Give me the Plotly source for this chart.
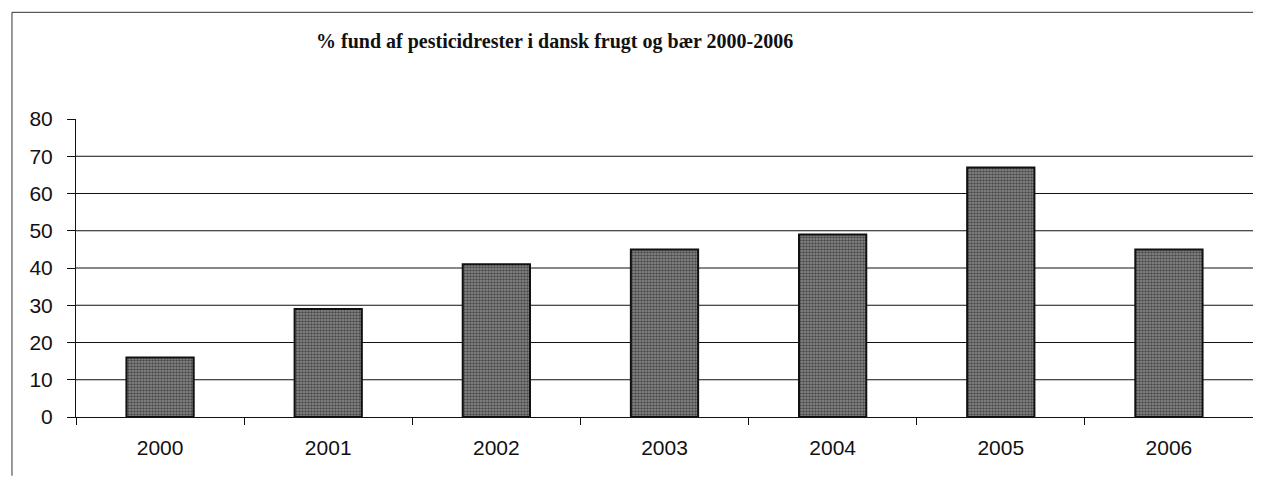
import plotly.graph_objects as go

years = ["2000", "2001", "2002", "2003", "2004", "2005", "2006"]
values = [16, 29, 41, 45, 49, 67, 45]
y_ticks = [0, 10, 20, 30, 40, 50, 60, 70, 80]
grid_vals = [10, 20, 30, 40, 50, 60, 70]
title = "% fund af pesticidrester i dansk frugt og bær 2000-2006"

fig = go.Figure()
fig.add_trace(go.Bar(
    x=years, y=values, width=0.4,
    marker=dict(
        color="#707070",
        line=dict(color="#111111", width=2),
        pattern=dict(shape=".", fgcolor="#0c0c0c", bgcolor="#8e8e8e", size=3, solidity=0.55),
    ),
    showlegend=False,
))

shapes = []
for g in grid_vals:
    shapes.append(dict(type="line", xref="paper", yref="y", x0=0, x1=1, y0=g, y1=g,
                       line=dict(color="#111111", width=1), layer="below"))
# outer chart border (top and left edges only), kept within the figure
shapes.append(dict(type="line", xref="paper", yref="paper", x0=-0.0544, x1=1.0, y0=1.358, y1=1.358,
                   line=dict(color="#333333", width=1)))
shapes.append(dict(type="line", xref="paper", yref="paper", x0=-0.0544, x1=-0.0544, y0=-0.197, y1=1.358,
                   line=dict(color="#333333", width=1)))

# the page adds an 8px body margin, so the figure is made smaller and margins shifted
fig.update_layout(
    width=1245, height=468,
    margin=dict(l=68, r=0, t=111, b=59),
    paper_bgcolor="white", plot_bgcolor="white",
    font=dict(family="Liberation Sans, Arial", size=21, color="#111111"),
    shapes=shapes,
    annotations=[dict(text="<b>" + title + "</b>", xref="paper", yref="paper",
                      x=0.4065, y=1.2605, xanchor="center", yanchor="middle", showarrow=False,
                      font=dict(family="Liberation Serif, Times New Roman", size=20, color="#111111"))],
    xaxis=dict(type="category", showline=True, linecolor="#111111", linewidth=1,
               ticks="outside", tickson="boundaries", ticklen=7, tickcolor="#111111",
               showgrid=False, ticklabelstandoff=12, tickfont=dict(size=21)),
    yaxis=dict(range=[0, 80], tickvals=y_ticks, showline=True, linecolor="#111111", linewidth=1,
               ticks="outside", ticklen=8, tickcolor="#111111", showgrid=False, zeroline=False,
               ticklabelstandoff=10, tickfont=dict(size=21)),
)

fig.write_html("out.html")
